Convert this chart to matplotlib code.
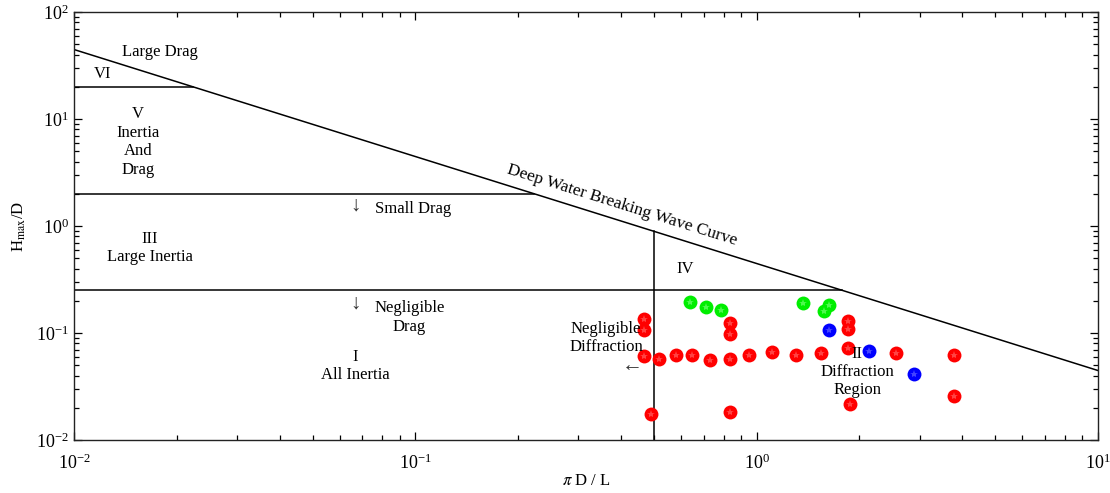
import numpy as np
import matplotlib
matplotlib.use("Agg")
import matplotlib.pyplot as plt
from matplotlib.ticker import LogLocator, NullFormatter

plt.rcParams['font.family'] = ['Liberation Serif', 'DejaVu Serif']
plt.rcParams['mathtext.fontset'] = 'stix'

# ---- data ----
breaking_x = [0.01, 10.0]
breaking_y = [44.6, 0.0446]          # deep water breaking wave curve H/D
region_levels = [20.0, 2.0, 0.25]    # horizontal region boundaries H/D
diffraction_x = 0.5                   # vertical boundary pi D / L

green_x = [0.638, 0.711, 0.787, 1.368, 1.63, 1.575]
green_y = [0.195, 0.175, 0.164, 0.191, 0.183, 0.161]

blue_x = [1.63, 2.135, 2.89]
blue_y = [0.107, 0.068, 0.041]

red_x = [0.468, 0.468, 0.835, 0.835, 1.853, 1.853,
         0.468, 0.518, 0.581, 0.647, 0.729, 0.835, 0.951, 1.11, 1.30, 1.545,
         1.853, 2.56, 3.79, 3.79, 1.88, 0.491, 0.835]
red_y = [0.135, 0.107, 0.124, 0.098, 0.129, 0.109,
         0.061, 0.057, 0.062, 0.062, 0.056, 0.057, 0.062, 0.066, 0.062, 0.065,
         0.072, 0.065, 0.062, 0.026, 0.0217, 0.0175, 0.0183]

# ---- figure ----
fig = plt.figure(figsize=(11.1, 4.93), dpi=100)
ax = fig.add_axes([74/1110, 53/493, 1024/1110, 428/493])

lw = 1.1
ax.plot(breaking_x, breaking_y, color='black', lw=lw)
kcurve = breaking_x[0] * breaking_y[0]
for lvl in region_levels:
    ax.plot([breaking_x[0], kcurve / lvl], [lvl, lvl], color='black', lw=lw)
ax.plot([diffraction_x, diffraction_x], [0.01, kcurve / diffraction_x], color='black', lw=lw)

for xs, ys, c, sc in [(red_x, red_y, '#ff0000', '#ff6060'),
                      (green_x, green_y, '#00ee00', '#70ff70'),
                      (blue_x, blue_y, '#0000ff', '#6060ff')]:
    ax.plot(xs, ys, 'o', color=c, markersize=10, markeredgewidth=0, zorder=3)
    ax.plot(xs, ys, '*', color=sc, markersize=6, markeredgewidth=0, zorder=4, alpha=0.7)

ax.set_xscale('log')
ax.set_yscale('log')
ax.set_xlim(0.01, 10)
ax.set_ylim(0.01, 100)

ax.xaxis.set_major_locator(LogLocator(base=10, numticks=10))
ax.xaxis.set_minor_locator(LogLocator(base=10, subs=np.arange(2, 10), numticks=20))
ax.yaxis.set_major_locator(LogLocator(base=10, numticks=10))
ax.yaxis.set_minor_locator(LogLocator(base=10, subs=np.arange(2, 10), numticks=20))
ax.xaxis.set_minor_formatter(NullFormatter())
ax.yaxis.set_minor_formatter(NullFormatter())

ax.tick_params(which='both', direction='in', top=True, right=True, labelsize=13, width=0.9)
ax.tick_params(which='major', length=6)
ax.tick_params(which='minor', length=3.5)
ax.tick_params(axis='x', which='major', pad=10)
for s in ax.spines.values():
    s.set_linewidth(1.0)
    s.set_color('#222222')

ax.set_xlabel(r'$\pi$ D / L', fontsize=12, labelpad=0)
ax.set_ylabel(r'H$_{\rm max}$/D', fontsize=12, labelpad=6)

fs = 12
tk = dict(fontsize=fs, ha='center', va='center', multialignment='center', linespacing=1.2)
ak = dict(fontsize=15, ha='center', va='center', color='#333333')
ax.text(0.0179, 42.3, 'Large Drag', **tk)
ax.text(0.0121, 26.3, 'VI', **tk)
ax.text(0.0154, 6.1, 'V\nInertia\nAnd\nDrag', **tk)
ax.text(0.0666, 1.52, '↓', **ak)
ax.text(0.0984, 1.44, 'Small Drag', **tk)
ax.text(0.0167, 0.62, 'III\nLarge Inertia', **tk)
ax.text(0.0666, 0.187, '↓', **ak)
ax.text(0.096, 0.14, 'Negligible\nDrag', **tk)
ax.text(0.0666, 0.049, 'I\nAll Inertia', **tk)
ax.text(0.617, 0.40, 'IV', **tk)
ax.text(0.362, 0.0898, 'Negligible\nDiffraction', **tk)
ax.text(0.432, 0.049, '←', **ak)
ax.text(1.97, 0.0432, 'II\nDiffraction\nRegion', **tk)
ax.text(0.404, 1.57, 'Deep Water Breaking Wave Curve', fontsize=12.5,
        ha='center', va='center', rotation=-17.4, rotation_mode='anchor')

fig.savefig('out.png', dpi=100)
